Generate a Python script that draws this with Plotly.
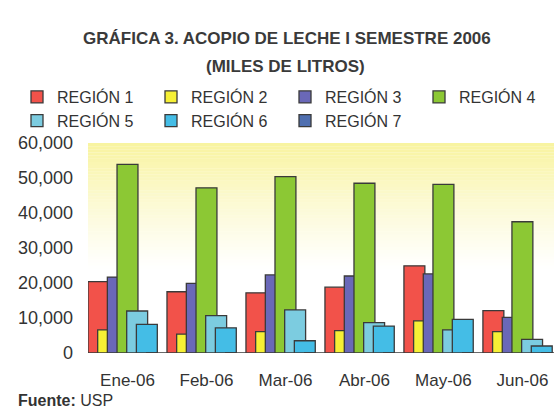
import plotly.graph_objects as go

months = ["Ene-06", "Feb-06", "Mar-06", "Abr-06", "May-06", "Jun-06"]
series_names = ["REGIÓN 1", "REGIÓN 2", "REGIÓN 3", "REGIÓN 4", "REGIÓN 5", "REGIÓN 6", "REGIÓN 7"]
region1 = [20400, 17500, 17200, 18800, 24900, 12100]
region2 = [6600, 5400, 6100, 6400, 9200, 6100]
region3 = [21700, 19900, 22300, 22000, 22600, 10200]
region4 = [53900, 47200, 50400, 48500, 48200, 37500]
region5 = [12000, 10700, 12300, 8700, 6600, 3900]
region6 = [8200, 7200, 3500, 7700, 9600, 2000]
region7 = [0, 0, 0, 0, 0, 0]
y_ticks = [0, 10000, 20000, 30000, 40000, 50000, 60000]

values = [region1, region2, region3, region4, region5, region6, region7]
colors = ["#F2524A", "#F6F035", "#6A68B8", "#8CC834", "#7CCCE0", "#44BDE6", "#4F6FB0"]

step = 0.1225
bw = 0.265
x_idx = list(range(len(months)))

W, H = 554, 409
ML, MR, MT, MB = 88, 0, 143, 56
PW, PH = W - ML - MR, H - MT - MB

def pxx(xpix):
    return (xpix - ML) / PW
def pxy(ypix):
    return (H - MB - ypix) / PH

fig = go.Figure()
for i, (name, vals, col) in enumerate(zip(series_names, values, colors)):
    fig.add_trace(go.Bar(
        x=x_idx, y=vals, name=name,
        offset=-0.5 + i * step, width=bw,
        marker=dict(color=col, line=dict(color="#3a3a3a", width=1.3)),
    ))

# yellow gradient background of plot area
shapes = []
n = 40
for k in range(n):
    y0 = 1 - (k + 1) * 0.6 / n
    y1 = 1 - k * 0.6 / n
    op = 0.95 * (1 - k / n) ** 1.2
    shapes.append(dict(type="rect", xref="paper", yref="paper", x0=0, x1=1,
                       y0=y0, y1=y1, fillcolor="#F8F39C", opacity=op,
                       line=dict(width=0), layer="below"))

title_font = dict(family="Liberation Sans Narrow, Liberation Sans, sans-serif", size=17, color="#3a3a3a")

fig.update_layout(
    width=W, height=H,
    margin=dict(l=ML, r=MR, t=MT, b=MB, autoexpand=False),
    paper_bgcolor="white", plot_bgcolor="white",
    barmode="overlay",
    showlegend=True,
    shapes=shapes,
    font=dict(family="Liberation Sans, Arial, sans-serif", color="#333333", size=16),
    legend=dict(orientation="h",
                x=pxx(17), y=pxy(80), xanchor="left", yanchor="top",
                entrywidth=89, entrywidthmode="pixels", traceorder="normal",
                font=dict(size=16, color="#333333"),
                bgcolor="rgba(0,0,0,0)", tracegroupgap=0),
    xaxis=dict(range=[-0.5, 5.4], tickvals=x_idx, ticktext=months, showgrid=False,
               zeroline=False, showline=False, ticks="", ticklabelstandoff=15,
               tickfont=dict(size=17, color="#333333")),
    yaxis=dict(range=[0, 60000], tickvals=y_ticks, tickformat=",", showgrid=False,
               zeroline=False, showline=False, ticks="", ticklabelstandoff=14,
               tickfont=dict(size=18, color="#333333")),
    annotations=[
        dict(text="<b>GRÁFICA 3. ACOPIO DE LECHE I SEMESTRE 2006</b>", xref="paper", yref="paper",
             x=pxx(287), y=pxy(38),
             xanchor="center", yanchor="middle", showarrow=False, font=title_font),
        dict(text="<b>(MILES DE LITROS)</b>", xref="paper", yref="paper",
             x=pxx(285), y=pxy(67),
             xanchor="center", yanchor="middle", showarrow=False, font=title_font),
        dict(text="<b>Fuente:</b> USP", xref="paper", yref="paper",
             x=pxx(16), y=pxy(400),
             xanchor="left", yanchor="middle", showarrow=False,
             font=dict(family="Liberation Sans, sans-serif", size=16, color="#333333")),
    ],
)

fig.write_html("out.html", config={"displayModeBar": False},
               post_script="document.body.style.margin='0';")
